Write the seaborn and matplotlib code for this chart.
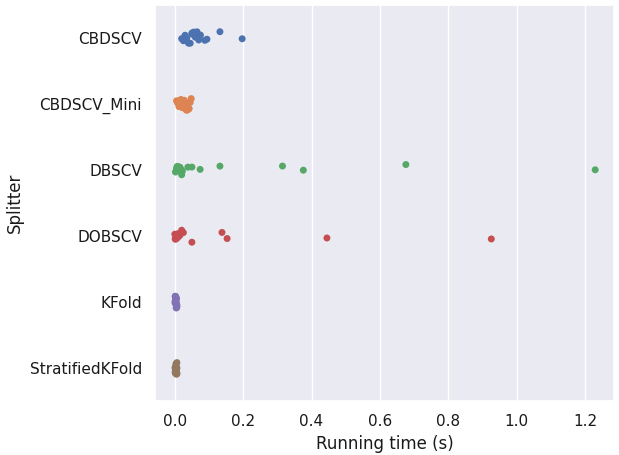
import numpy as np
import pandas as pd
import matplotlib
matplotlib.use("Agg")
import matplotlib.pyplot as plt
import seaborn as sns

splitters = ["CBDSCV", "CBDSCV_Mini", "DBSCV", "DOBSCV", "KFold", "StratifiedKFold"]

cbdscv = [0.02, 0.025, 0.03, 0.035, 0.04, 0.045, 0.05, 0.05, 0.055, 0.06,
          0.065, 0.068, 0.07, 0.075, 0.088, 0.094, 0.132, 0.197]
cbdscv_mini = [0.005, 0.008, 0.01, 0.012, 0.015, 0.018, 0.02, 0.022, 0.025, 0.028,
               0.03, 0.033, 0.035, 0.038, 0.04, 0.042, 0.045, 0.048]
dbscv = [0.002, 0.004, 0.005, 0.007, 0.008, 0.01, 0.012, 0.015, 0.018, 0.02,
         0.022, 0.038, 0.05, 0.074, 0.132, 0.315, 0.376, 0.676, 1.23]
dobscv = [0.0, 0.001, 0.002, 0.003, 0.004, 0.005, 0.006, 0.008, 0.01, 0.012,
          0.015, 0.02, 0.025, 0.05, 0.138, 0.153, 0.445, 0.926]
kfold = [0.0005, 0.001, 0.001, 0.0015, 0.002, 0.002, 0.0025, 0.003, 0.003, 0.0035,
         0.004, 0.004, 0.0045, 0.005, 0.005, 0.0055, 0.006, 0.006]
strat = [0.0005, 0.001, 0.0015, 0.002, 0.002, 0.0025, 0.003, 0.003, 0.0035, 0.004,
         0.004, 0.0045, 0.005, 0.005, 0.0055, 0.006, 0.006, 0.0065]

values = [cbdscv, cbdscv_mini, dbscv, dobscv, kfold, strat]
df = pd.DataFrame({
    "Splitter": np.repeat(splitters, [len(v) for v in values]),
    "Running time (s)": np.concatenate(values),
})

sns.set_theme(style="darkgrid", rc={"text.color": "0.1", "axes.labelcolor": "0.1",
                                    "xtick.color": "0.1", "ytick.color": "0.1"})
np.random.seed(3)
fig = plt.figure(figsize=(6.19, 4.55), dpi=100)
ax = fig.add_axes([155 / 619, 1 - 401 / 455, (614 - 155) / 619, (401 - 5) / 455])
sns.stripplot(data=df, x="Running time (s)", y="Splitter", hue="Splitter",
              order=splitters, hue_order=splitters, legend=False, ax=ax,
              palette="deep", size=5)
ax.set_xticks([0.0, 0.2, 0.4, 0.6, 0.8, 1.0, 1.2])
ax.set_xlim(-0.058, 1.285)
ax.tick_params(labelsize=11)
ax.set_xlabel("Running time (s)", fontsize=12)
ax.set_ylabel("Splitter", fontsize=12)
fig.savefig("out.png", dpi=100)
